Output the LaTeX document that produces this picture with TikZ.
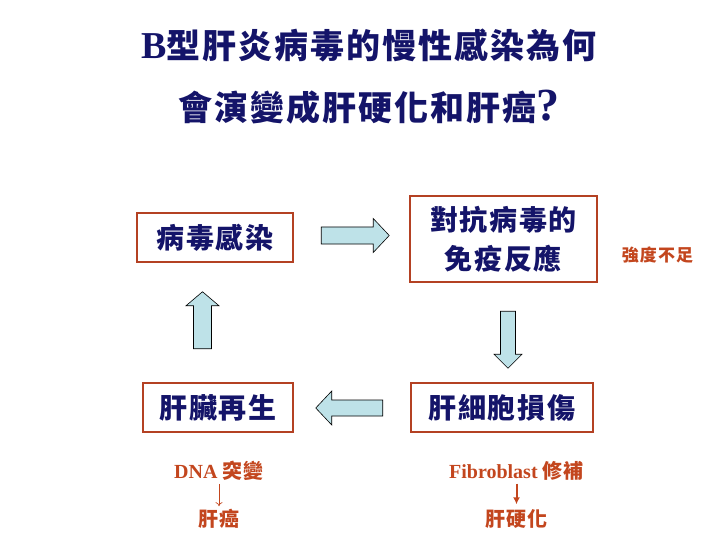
\documentclass[tikz,border=0pt]{standalone}
\usepackage{fontspec}
\setmainfont{Liberation Serif}
\newfontfamily\cjk{Noto Sans CJK TC}[LetterSpace=6]
\usetikzlibrary{positioning,calc,arrows.meta}
\definecolor{navy}{RGB}{20,20,105}
\definecolor{boxred}{RGB}{180,65,35}
\definecolor{notered}{RGB}{195,70,30}
\definecolor{arrowblue}{RGB}{190,226,232}
% block arrow: tail, angle, length, head length, half shaft, half head
\newcommand{\fatarrow}[6]{\draw[fatarrow,shift={(#1)},rotate=#2] (0,-#5) -- (#3-#4,-#5) -- (#3-#4,-#6) -- (#3,0) -- (#3-#4,#6) -- (#3-#4,#5) -- (0,#5) -- cycle;}

\begin{document}
\begin{tikzpicture}[x=1pt,y=-1pt,
  title/.style={text=navy,inner sep=0pt,font=\fontsize{34}{40}\selectfont\bfseries},
  stage/.style={draw=boxred,line width=2.5pt,text=navy,inner sep=0pt,align=center,font=\cjk\bfseries\fontsize{28}{39}\selectfont},
  note/.style={text=notered,inner sep=0pt,font=\fontsize{20}{24}\selectfont\bfseries},
  fatarrow/.style={draw=black,line width=0.6pt,fill=arrowblue}]
\useasboundingbox (0,0) rectangle (720,540);
% title
\node[title] (t1) at (369,45) {{\fontsize{38}{40}\selectfont B}{\cjk 型肝炎病毒的慢性感染為何}};
\node[title] (t2) at (369,107) {{\cjk 會演變成肝硬化和肝癌}{\fontsize{46}{40}\selectfont ?}};
% the four stages
\node[stage,minimum width=156,minimum height=49] (infect) at (215,237.5) {病毒感染};
\node[stage,minimum width=187,minimum height=86] (immune) at (503.5,239) {對抗病毒的\\免疫反應};
\node[stage,minimum width=150,minimum height=49] (regen) at (218,407.5) {肝臟再生};
\node[stage,minimum width=182,minimum height=49] (damage) at (502,407.5) {肝細胞損傷};
\node[note,font=\cjk\bfseries\fontsize{17}{20}\selectfont] (weak) at (657.5,255) {強度不足};
% block arrows between stages
\coordinate (a1) at ($(infect.east)+(27,-2)$);
\coordinate (a2) at ($(immune.south)+(4.5,28)$);
\coordinate (a3) at ($(damage.west)+(-27,0.5)$);
\coordinate (a4) at ($(regen.north)+(-15.5,-33)$);
\fatarrow{a1}{0}{68}{16}{8.5}{17}
\fatarrow{a2}{-90}{57}{14}{7.5}{14}
\fatarrow{a3}{180}{67}{16}{8}{17}
\fatarrow{a4}{90}{57}{14}{9}{16.5}
% outcomes
\node[note] (dna) at (219,471) {DNA {\cjk 突變}};
\node[note] (hcc) at (219,519) {\cjk 肝癌};
\node[note] (fib) at (516.5,471) {Fibroblast {\cjk 修補}};
\node[note] (cirr) at (516.5,519) {\cjk 肝硬化};
\draw[-{To[length=4pt,width=7pt]},notered,line width=0.7pt,shorten <=3pt,shorten >=3pt] (dna) -- (hcc);
\draw[-{Latex[length=7pt,width=7pt]},notered,line width=2pt,shorten <=3pt,shorten >=5pt] (fib) -- (cirr);
\end{tikzpicture}
\end{document}
